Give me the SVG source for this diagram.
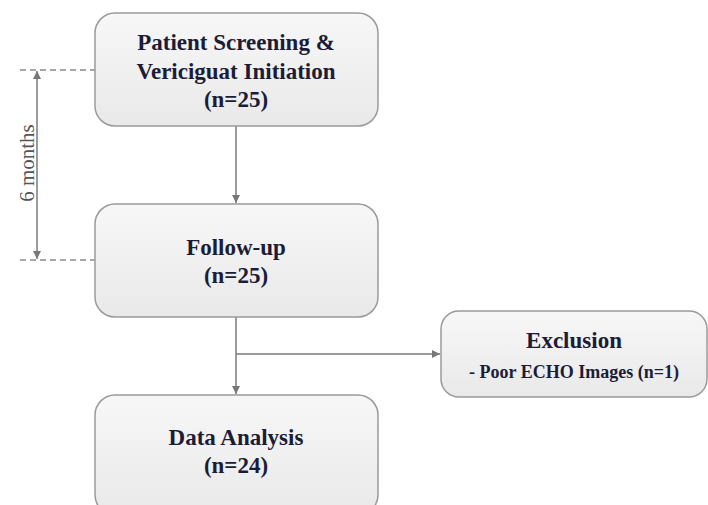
<svg xmlns="http://www.w3.org/2000/svg" width="708" height="505" viewBox="0 0 708 505">
<defs>
<linearGradient id="g" x1="0" y1="0" x2="0" y2="1">
<stop offset="0" stop-color="#f7f7f7"/>
<stop offset="1" stop-color="#e9e9e9"/>
</linearGradient>
<marker id="ah" viewBox="0 0 10 10" refX="10" refY="5" markerWidth="8" markerHeight="8" markerUnits="userSpaceOnUse" orient="auto-start-reverse">
<path d="M0,0 L10,5 L0,10 z" fill="#777"/>
</marker>
</defs>
<style>
.box{fill:url(#g);stroke:#9a9a9a;stroke-width:1.5}
.t{font-family:"Liberation Serif",serif;font-weight:bold;fill:#1c1c36;text-anchor:middle}
.c{stroke:#7a7a7a;stroke-width:1.5;fill:none}
.d{stroke:#8a8a8a;stroke-width:1.3;stroke-dasharray:6,4;fill:none}
</style>
<rect width="708" height="505" fill="#fff"/>
<g id="connectors">
<line class="c" x1="236" y1="126" x2="236" y2="203" marker-end="url(#ah)"/>
<line class="c" x1="236" y1="317" x2="236" y2="394" marker-end="url(#ah)"/>
<line class="c" x1="236" y1="354" x2="440" y2="354" marker-end="url(#ah)"/>
<line class="d" x1="20" y1="70" x2="95" y2="70"/>
<line class="d" x1="20" y1="260" x2="95" y2="260"/>
<line class="c" x1="37" y1="71" x2="37" y2="259" marker-start="url(#ah)" marker-end="url(#ah)"/>
<text x="0" y="0" transform="translate(34,163) rotate(-90)" style="font-family:'Liberation Serif',serif;font-size:21px;fill:#555;text-anchor:middle">6 months</text>
</g>
<g id="screening">
<rect class="box" x="95" y="13" width="283" height="113" rx="20"/>
<text class="t" x="236" y="50" font-size="23">Patient Screening &amp;</text>
<text class="t" x="236" y="79" font-size="23">Vericiguat Initiation</text>
<text class="t" x="236" y="107" font-size="23">(n=25)</text>
</g>
<g id="followup">
<rect class="box" x="95" y="204" width="283" height="113" rx="20"/>
<text class="t" x="236" y="255" font-size="23">Follow-up</text>
<text class="t" x="236" y="283" font-size="23">(n=25)</text>
</g>
<g id="analysis">
<rect class="box" x="95" y="395" width="283" height="120" rx="20"/>
<text class="t" x="236" y="445" font-size="23">Data Analysis</text>
<text class="t" x="236" y="473" font-size="23">(n=24)</text>
</g>
<g id="exclusion">
<rect class="box" x="441" y="311" width="266" height="86" rx="18"/>
<text class="t" x="574" y="348" font-size="23">Exclusion</text>
<text class="t" x="574" y="378" font-size="18">- Poor ECHO Images (n=1)</text>
</g>
</svg>
